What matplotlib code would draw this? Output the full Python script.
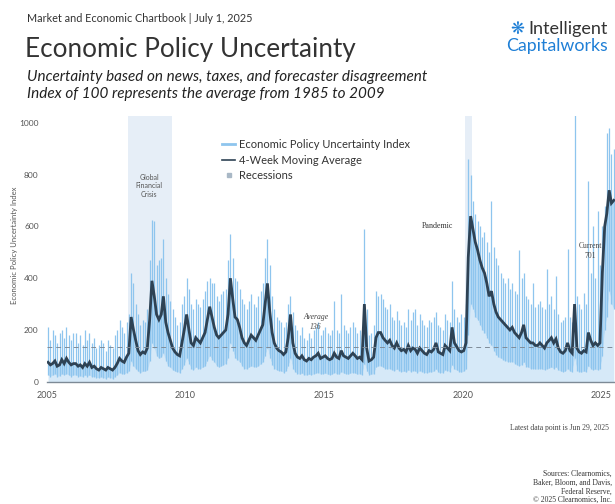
import matplotlib
matplotlib.use("Agg")
import matplotlib.pyplot as plt
from matplotlib.lines import Line2D
import numpy as np
import pandas as pd

# ---------------- data (monthly summaries) ----------------
start_month = "2005-01"
# 4-week moving average level (monthly)
ma = [
    75, 65, 70, 80, 60, 65, 85, 70, 90, 75, 65, 70,          # 2005
    70, 60, 65, 55, 70, 60, 75, 55, 60, 50, 45, 55,          # 2006
    50, 45, 55, 50, 45, 55, 70, 90, 80, 75, 95, 110,         # 2007
    250, 200, 160, 120, 105, 115, 110, 130, 240, 390, 330, 260,  # 2008
    240, 260, 330, 230, 190, 160, 130, 115, 105, 100, 150, 200,  # 2009
    260, 200, 150, 140, 170, 160, 150, 170, 190, 240, 290, 250,  # 2010
    210, 180, 170, 180, 190, 200, 260, 400, 320, 250, 240, 210,  # 2011
    170, 150, 140, 160, 180, 170, 160, 180, 200, 220, 300, 380,  # 2012
    270, 190, 150, 130, 120, 115, 105, 115, 170, 260, 150, 110,  # 2013
    95, 90, 100, 85, 80, 90, 85, 95, 100, 110, 90, 95,       # 2014
    100, 90, 85, 90, 110, 95, 90, 120, 100, 95, 90, 100,     # 2015
    110, 100, 90, 95, 85, 300, 130, 80, 85, 95, 170, 190,    # 2016
    190, 170, 160, 150, 160, 140, 130, 150, 130, 120, 125, 115,  # 2017
    140, 120, 130, 125, 110, 130, 120, 110, 105, 120, 115, 125,  # 2018
    150, 115, 110, 105, 140, 130, 120, 210, 150, 135, 120, 115,  # 2019
    120, 150, 480, 640, 590, 540, 510, 470, 440, 420, 380, 330,  # 2020
    350, 300, 270, 250, 240, 230, 220, 210, 200, 210, 190, 180,  # 2021
    170, 190, 220, 170, 160, 150, 150, 140, 140, 150, 140, 130,  # 2022
    150, 160, 170, 150, 165, 130, 115, 110, 120, 150, 120, 110,  # 2023
    300, 130, 115, 110, 120, 115, 190, 160, 140, 150, 140, 150,  # 2024
    420, 600, 650, 740, 690, 701,                            # 2025
]
# highest daily index reading in the month
idx_high = [
    210, 160, 200, 180, 150, 190, 200, 170, 210, 180, 160, 190,
    190, 150, 180, 140, 200, 160, 190, 150, 170, 130, 140, 160,
    150, 120, 160, 140, 130, 180, 200, 240, 210, 190, 230, 260,
    420, 380, 300, 260, 220, 240, 230, 280, 470, 625, 620, 450,
    470, 480, 550, 400, 340, 310, 280, 250, 220, 230, 300, 330,
    400, 360, 300, 280, 320, 300, 290, 320, 350, 390, 400, 380,
    380, 330, 310, 340, 350, 360, 470, 570, 480, 400, 390, 360,
    320, 300, 280, 310, 340, 300, 290, 330, 350, 380, 480, 550,
    450, 330, 280, 250, 240, 230, 210, 230, 300, 330, 270, 220,
    200, 180, 210, 170, 160, 190, 170, 200, 210, 230, 180, 200,
    210, 190, 180, 200, 310, 200, 190, 340, 220, 200, 190, 210,
    230, 210, 190, 200, 180, 590, 280, 180, 190, 220, 350, 330,
    340, 320, 290, 280, 300, 250, 240, 275, 240, 220, 230, 210,
    280, 240, 270, 280, 220, 260, 240, 220, 210, 240, 230, 250,
    270, 220, 210, 200, 260, 240, 230, 390, 280, 250, 230, 260,
    250, 300, 860, 800, 700, 650, 620, 600, 560, 580, 540, 500,
    700, 520, 480, 450, 420, 400, 380, 400, 360, 380, 350, 340,
    510, 400, 420, 330, 320, 300, 380, 290, 300, 310, 290, 280,
    436, 300, 330, 280, 410, 260, 230, 240, 250, 514, 250, 230,
    1050, 330, 300, 280, 343, 300, 776, 420, 603, 400, 660, 450,
    600, 680, 960, 980, 880, 900,
]
# lowest daily index reading in the month
idx_low = [
    25, 20, 25, 30, 20, 22, 30, 25, 30, 25, 20, 25,
    25, 20, 22, 18, 25, 20, 25, 18, 20, 15, 15, 18,
    15, 12, 18, 15, 12, 20, 25, 35, 30, 28, 35, 40,
    80, 60, 50, 40, 35, 40, 40, 45, 80, 150, 130, 100,
    90, 95, 110, 80, 60, 55, 45, 40, 38, 35, 50, 65,
    90, 70, 50, 45, 55, 50, 50, 55, 60, 80, 100, 85,
    75, 60, 55, 60, 65, 70, 90, 150, 120, 90, 85, 75,
    60, 50, 48, 55, 60, 58, 55, 60, 68, 75, 100, 130,
    90, 65, 50, 45, 42, 40, 35, 40, 60, 90, 50, 38,
    30, 28, 32, 25, 25, 28, 25, 30, 32, 35, 28, 30,
    32, 28, 26, 28, 35, 30, 28, 38, 32, 30, 28, 32,
    35, 32, 28, 30, 26, 70, 40, 25, 28, 30, 55, 60,
    60, 55, 50, 48, 50, 45, 42, 48, 42, 38, 40, 36,
    45, 38, 42, 40, 35, 42, 38, 35, 33, 38, 36, 40,
    48, 36, 35, 33, 45, 42, 38, 65, 48, 44, 38, 36,
    40, 50, 180, 300, 280, 250, 240, 220, 200, 190, 170, 150,
    140, 120, 105, 95, 90, 85, 80, 78, 75, 78, 70, 65,
    60, 65, 75, 58, 55, 50, 50, 48, 48, 50, 48, 45,
    50, 52, 55, 50, 55, 45, 40, 38, 40, 50, 40, 38,
    90, 42, 38, 36, 40, 38, 60, 50, 45, 48, 45, 50,
    100, 200, 250, 350, 300, 280,
]
recession_starts = ["2007-12-01", "2020-02-01"]
recession_ends = ["2009-06-30", "2020-04-30"]
average_value = 136
current_value = 701
y_ticks = [0, 200, 400, 600, 800, 1000]
x_tick_years = [2005, 2010, 2015, 2020, 2025]

# ---------------- figure ----------------
W, H = 615, 504
fig = plt.figure(figsize=(W / 100, H / 100), dpi=100)
fig.patch.set_facecolor("white")

LIGHT = "#8ec5ee"
FILL = "#d6e9f8"
MID = "#b9dbf5"
DARK = "#2e4254"
REC = "#e6eef7"
GRAY = "#555555"

ax_left = 47 / W
ax_bottom = (H - 381.7) / H
ax_top_px = 116.0
ax = fig.add_axes([ax_left, ax_bottom, 1.0 - ax_left, (381.7 - ax_top_px) / H])

dates = pd.date_range(start_month, periods=len(ma), freq="MS") + pd.Timedelta(days=14)

# recessions
for s, e in zip(recession_starts, recession_ends):
    ax.axvspan(pd.Timestamp(s), pd.Timestamp(e), color=REC, zorder=0, lw=0)

ax.fill_between(dates, 0, idx_low, color=FILL, lw=0, zorder=1)
ax.fill_between(dates, idx_low, ma, color=MID, lw=0, zorder=1)
ax.vlines(dates, idx_low, idx_high, color=LIGHT, lw=0.9, zorder=2)
ax.plot(dates, ma, color=DARK, lw=2.0, zorder=3, solid_joinstyle="miter")
ax.axhline(average_value, color="#7f8c99", lw=0.7, ls=(0, (5, 4)), zorder=4)

ax.set_xlim(pd.Timestamp("2005-01-01"), pd.Timestamp("2025-07-01"))
ax.set_ylim(0, 1027)
ax.set_yticks(y_ticks)
ax.set_yticklabels([str(v) for v in y_ticks], fontsize=6, color=GRAY, family="Lato")
ax.set_xticks([pd.Timestamp(f"{y}-01-01") for y in x_tick_years])
ax.set_xticklabels([str(y) for y in x_tick_years], fontsize=6.5, color=GRAY, family="Lato")
ax.tick_params(length=0, pad=7)
ax.tick_params(axis="y", pad=6)
for side in ["top", "right", "left"]:
    ax.spines[side].set_visible(False)
ax.spines["bottom"].set_color("#7d8a96")
ax.spines["bottom"].set_linewidth(1.0)
ax.set_facecolor("white")

fig.text(14 / W, 1 - 245 / H, "Economic Policy Uncertainty Index", rotation=90,
         fontsize=5.5, color=GRAY, ha="center", va="center", family="Lato")

# legend
handles = [Line2D([], [], color=LIGHT, lw=2),
           Line2D([], [], color=DARK, lw=1.2),
           Line2D([], [], color="#a9b8c6", marker="s", ls="none", markersize=3.5)]
labels = ["Economic Policy Uncertainty Index", "4-Week Moving Average", "Recessions"]
leg = fig.legend(handles, labels, loc="upper left", bbox_to_anchor=(212 / W, 1 - 129 / H),
                 frameon=False, handlelength=1.2, handletextpad=0.35,
                 labelspacing=0.42, prop={"family": "Lato", "size": 8})
for t in leg.get_texts():
    t.set_color("#333333")

# annotations
fig.text(149 / W, 1 - 186 / H, "Global\nFinancial\nCrisis", fontsize=5, color=GRAY,
         ha="center", va="center", family="Lato", linespacing=1.3)
fig.text(437 / W, 1 - 226 / H, "Pandemic", fontsize=5.8, color="#333333",
         ha="center", va="center", family="Liberation Serif")
fig.text(316 / W, 1 - 322 / H, f"Average\n{average_value}", fontsize=5.5, color="#444444",
         ha="center", va="center", family="Liberation Serif", style="italic", linespacing=1.2)
fig.text(590 / W, 1 - 251 / H, f"Current\n{current_value}", fontsize=5.5, color="#444444",
         ha="center", va="center", family="Liberation Serif", linespacing=1.2)

# header
fig.text(27 / W, 1 - 19 / H, "Market and Economic Chartbook | July 1, 2025", fontsize=7.8,
         color="#333333", ha="left", va="center", family="Lato")
fig.text(25 / W, 1 - 50 / H, "Economic Policy Uncertainty", fontsize=18.8,
         color="#333333", ha="left", va="center", family="Lato")
fig.text(27 / W, 1 - 77 / H, "Uncertainty based on news, taxes, and forecaster disagreement",
         fontsize=11, color="#222222", ha="left", va="center", family="Lato", style="italic")
fig.text(27 / W, 1 - 94 / H, "Index of 100 represents the average from 1985 to 2009",
         fontsize=11, color="#222222", ha="left", va="center", family="Lato", style="italic")

# logo
fig.text(517 / W, 1 - 29 / H, "\u274b", fontsize=12, color="#1e7fd6", ha="center", va="center",
         family="DejaVu Sans")
fig.text(528 / W, 1 - 29 / H, "Intelligent", fontsize=13, color="#333333", ha="left",
         va="center", family="Lato")
fig.text(506 / W, 1 - 46 / H, "Capitalworks", fontsize=12.8, color="#1e7fd6", ha="left",
         va="center", family="Lato")

# footer
fig.text(609 / W, 1 - 428 / H, "Latest data point is Jun 29, 2025", fontsize=5.5,
         color="#444444", ha="right", va="center", family="Liberation Serif")
foot = [("Sources: Clearnomics,", 474), ("Baker, Bloom, and Davis,", 483),
        ("Federal Reserve,", 492), ("\u00a9 2025 Clearnomics, Inc.", 500)]
for txt, y in foot:
    fig.text(612 / W, 1 - y / H, txt, fontsize=5.5, color="#333333", ha="right", va="center",
             family="Liberation Serif")

fig.savefig("out.png", dpi=100)
